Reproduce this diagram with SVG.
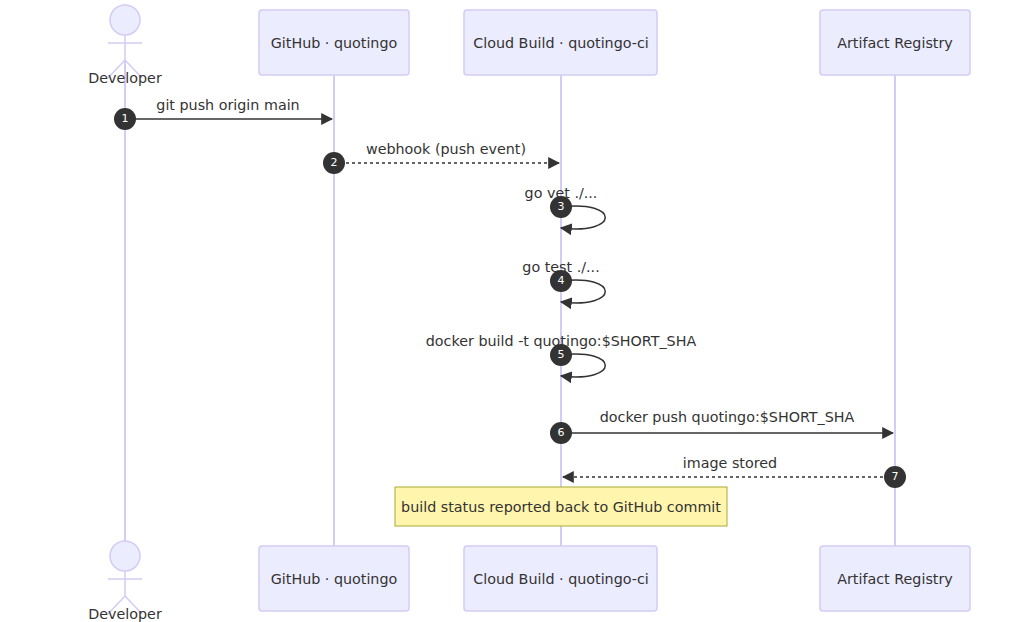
<svg xmlns="http://www.w3.org/2000/svg" width="1020" height="622" viewBox="0 0 1020 622">
<style>
text{font-family:"DejaVu Sans","Liberation Sans",sans-serif;font-size:14.3px;fill:#333;text-anchor:middle;dominant-baseline:middle}
.box{fill:#ECECFF;stroke:#D4CCF4;stroke-width:1.5}
.life{stroke:#D4CCF4;stroke-width:2}
.msg{stroke:#333;stroke-width:1.5;fill:none}
.dash{stroke-dasharray:3,3}
.num circle{fill:#333}
.num text{fill:#fff;font-size:11px}
</style>
<defs>
<marker id="arr" viewBox="0 0 10 10" refX="9" refY="5" markerWidth="8" markerHeight="8" orient="auto-start-reverse"><path d="M0,0L10,5L0,10z" fill="#333"/></marker>
</defs>
<g id="lifelines">
<line class="life" x1="125" y1="60" x2="125" y2="560"/>
<line class="life" x1="334" y1="75" x2="334" y2="546"/>
<line class="life" x1="561" y1="75" x2="561" y2="546"/>
<line class="life" x1="895" y1="75" x2="895" y2="546"/>
</g>
<g id="developer-top"><circle class="box" cx="125" cy="20" r="15"/><path class="box" d="M125,35V60M108,43H142M125,60L108,78M125,60L142,78" fill="none"/><text x="125" y="79">Developer</text></g>
<g id="github-top"><rect class="box" x="259" y="10" width="150" height="65" rx="3"/><text x="334" y="44">GitHub · quotingo</text></g>
<g id="cloudbuild-top"><rect class="box" x="464" y="10" width="193" height="65" rx="3"/><text x="561" y="44">Cloud Build · quotingo-ci</text></g>
<g id="registry-top"><rect class="box" x="820" y="10" width="150" height="65" rx="3"/><text x="895" y="44">Artifact Registry</text></g>
<g id="developer-bottom"><circle class="box" cx="125" cy="556" r="15"/><path class="box" d="M125,571V596M108,579H142M125,596L108,614M125,596L142,614" fill="none"/><text x="125" y="615">Developer</text></g>
<g id="github-bottom"><rect class="box" x="259" y="546" width="150" height="65" rx="3"/><text x="334" y="580">GitHub · quotingo</text></g>
<g id="cloudbuild-bottom"><rect class="box" x="464" y="546" width="193" height="65" rx="3"/><text x="561" y="580">Cloud Build · quotingo-ci</text></g>
<g id="registry-bottom"><rect class="box" x="820" y="546" width="150" height="65" rx="3"/><text x="895" y="580">Artifact Registry</text></g>
<g id="connectors">
<line class="msg" x1="125" y1="119" x2="332" y2="119" marker-end="url(#arr)"/><text x="228" y="106">git push origin main</text>
<line class="msg dash" x1="334" y1="163" x2="559" y2="163" marker-end="url(#arr)"/><text x="446" y="150">webhook (push event)</text>
<path class="msg" d="M561,207C620,200 620,235 561,228" marker-end="url(#arr)"/><text x="561" y="194">go vet ./...</text>
<path class="msg" d="M561,281C620,274 620,309 561,302" marker-end="url(#arr)"/><text x="561" y="268">go test ./...</text>
<path class="msg" d="M561,355C620,348 620,383 561,376" marker-end="url(#arr)"/><text x="561" y="342">docker build -t quotingo:$SHORT_SHA</text>
<line class="msg" x1="561" y1="433" x2="893" y2="433" marker-end="url(#arr)"/><text x="727" y="418">docker push quotingo:$SHORT_SHA</text>
<line class="msg dash" x1="895" y1="477" x2="563" y2="477" marker-end="url(#arr)"/><text x="730" y="464">image stored</text>
</g>
<g id="numbers" class="num">
<circle cx="125" cy="119" r="11"/><text x="125" y="119">1</text>
<circle cx="334" cy="163" r="11"/><text x="334" y="163">2</text>
<circle cx="561" cy="207" r="11"/><text x="561" y="207">3</text>
<circle cx="561" cy="281" r="11"/><text x="561" y="281">4</text>
<circle cx="561" cy="355" r="11"/><text x="561" y="355">5</text>
<circle cx="561" cy="433" r="11"/><text x="561" y="433">6</text>
<circle cx="895" cy="477" r="11"/><text x="895" y="477">7</text>
</g>
<g id="note"><rect x="395" y="487" width="332" height="39" fill="#FFF5AD" stroke="#AAAA33"/><text x="561" y="508">build status reported back to GitHub commit</text></g>
</svg>
